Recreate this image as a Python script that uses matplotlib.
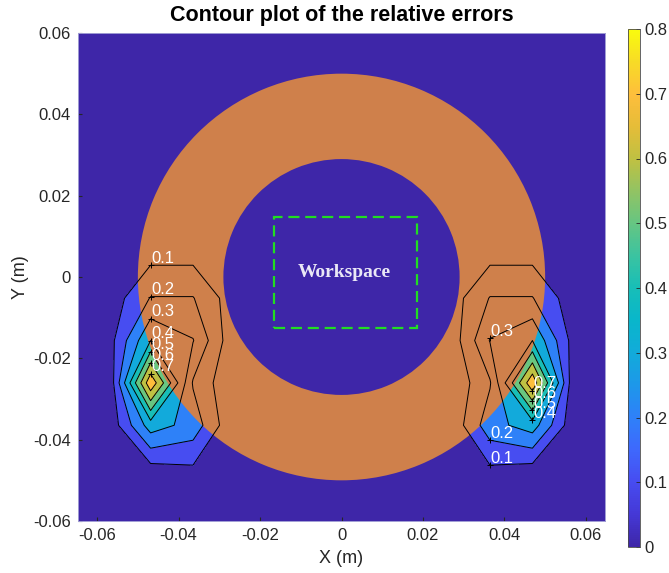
import numpy as np
import matplotlib
matplotlib.use("Agg")
import matplotlib.pyplot as plt
from matplotlib.cm import ScalarMappable
from matplotlib.colors import LinearSegmentedColormap, Normalize
from matplotlib.patches import Rectangle, Wedge

plt.rcParams["font.family"] = ["Liberation Sans", "DejaVu Sans"]

# grid nodes of the error map (m), same for x and y
grid_nodes = [-0.067708, -0.057292, -0.046875, -0.036458, -0.026042, -0.015625, -0.005208,
              0.005208, 0.015625, 0.026042, 0.036458, 0.046875, 0.057292, 0.067708]

# relative error around the left hot spot; the right one is its mirror image
blob_x = [-0.057292, -0.046875, -0.036458, -0.026042]
blob_y = [0.015625, 0.005208, -0.005208, -0.015625, -0.026042, -0.036458, -0.046875, -0.057292]
blob_err = [
    [0.000, 0.000, 0.000, 0.000],
    [0.030, 0.070, 0.070, 0.020],
    [0.034, 0.205, 0.205, 0.037],
    [0.049, 0.400, 0.305, 0.014],
    [0.000, 0.780, 0.190, 0.000],
    [0.019, 0.350, 0.260, 0.004],
    [0.010, 0.073, 0.090, 0.020],
    [0.000, 0.000, 0.000, 0.000],
]

levels = [0.0, 0.1, 0.2, 0.3, 0.4, 0.5, 0.6, 0.7, 0.8]
line_levels = [0.1, 0.2, 0.3, 0.4, 0.5, 0.6, 0.7]
cbar_ticks = [0, 0.1, 0.2, 0.3, 0.4, 0.5, 0.6, 0.7, 0.8]
axis_ticks = [-0.06, -0.04, -0.02, 0, 0.02, 0.04, 0.06]
axis_ticklabels = ["-0.06", "-0.04", "-0.02", "0", "0.02", "0.04", "0.06"]

ring_outer = 0.05
ring_inner = 0.029
workspace_x = [-0.0166, 0.0186]
workspace_y = [-0.0126, 0.0147]

# MATLAB parula, approximated
parula_pts = [
    (0.000, (0.2422, 0.1504, 0.6603)),
    (0.0625, (0.2700, 0.2200, 0.8400)),
    (0.125, (0.2780, 0.3000, 0.9450)),
    (0.1875, (0.2450, 0.4100, 0.9900)),
    (0.250, (0.1800, 0.5050, 0.9750)),
    (0.3125, (0.1150, 0.5950, 0.9150)),
    (0.375, (0.0700, 0.6700, 0.8550)),
    (0.4375, (0.0350, 0.7150, 0.7950)),
    (0.500, (0.0900, 0.7450, 0.7200)),
    (0.5625, (0.2300, 0.7650, 0.6300)),
    (0.625, (0.4000, 0.7750, 0.5100)),
    (0.6875, (0.5700, 0.7650, 0.3900)),
    (0.750, (0.7500, 0.7550, 0.2600)),
    (0.8125, (0.9000, 0.7400, 0.2200)),
    (0.875, (0.9950, 0.7450, 0.2350)),
    (0.9375, (0.9700, 0.8600, 0.1500)),
    (1.000, (0.9763, 0.9831, 0.0538)),
]
parula = LinearSegmentedColormap.from_list("parula", parula_pts)
norm = Normalize(0, 0.8)
band_colors = [parula(norm(v)) for v in levels[:-1]]

# full error map
n = len(grid_nodes)
Z = np.zeros((n, n))
for i, yv in enumerate(blob_y):
    r = grid_nodes.index(yv)
    for j, xv in enumerate(blob_x):
        c = grid_nodes.index(xv)
        Z[r, c] = blob_err[i][j]
        Z[r, n - 1 - c] = blob_err[i][j]
X, Y = np.meshgrid(grid_nodes, grid_nodes)

fig = plt.figure(figsize=(6.69, 5.73), dpi=100)
ax = fig.add_axes([78 / 669, 52 / 573, 527 / 669, 488 / 573])
ax.set_facecolor(band_colors[0])

ax.contourf(X, Y, Z, levels=levels, colors=band_colors, zorder=1)
ax.add_patch(Wedge((0, 0), ring_outer, 0, 360, width=ring_outer - ring_inner,
                   facecolor="#CF804B", edgecolor="none", zorder=2))
cs = ax.contour(X, Y, Z, levels=line_levels, colors="k", linewidths=0.7, zorder=3)

ax.add_patch(Rectangle((workspace_x[0], workspace_y[0]),
                       workspace_x[1] - workspace_x[0], workspace_y[1] - workspace_y[0],
                       fill=False, edgecolor="#22DD22", linewidth=1.6,
                       linestyle=(0, (5, 2.6)), zorder=4))
ax.text(np.mean(workspace_x) - 0.0004, np.mean(workspace_y) + 0.0001, "Workspace",
        family=["Liberation Serif", "DejaVu Serif"], fontweight="bold", fontsize=14,
        color="#EAE8F6", ha="center", va="center", zorder=4)


def crossing(level, x0, pick):
    """y where the contour line of `level` crosses the vertical x = x0."""
    path = cs.get_paths()[line_levels.index(level)]
    ys = []
    for poly in path.to_polygons(closed_only=False):
        for (xa, ya), (xb, yb) in zip(poly[:-1], poly[1:]):
            if xa == xb:
                continue
            if (xa - x0) * (xb - x0) <= 0:
                ys.append(ya + (x0 - xa) * (yb - ya) / (xb - xa))
    return max(ys) if pick == "max" else min(ys)


# (level, column, which crossing) for the inline labels
label_specs = [(lev, blob_x[1], "max") for lev in line_levels]
label_specs += [(0.1, -blob_x[2], "min"), (0.2, -blob_x[2], "min"), (0.3, -blob_x[2], "max")]
label_specs += [(lev, -blob_x[1], "min") for lev in [0.4, 0.5, 0.6, 0.7]]

for lev, x0, pick in label_specs:
    y0 = crossing(lev, x0, pick)
    ax.plot(x0, y0, marker="+", color="k", ms=4, mew=0.7, zorder=5)
    ax.annotate(f"{lev:g}", (x0, y0), xytext=(0.5, 1.8), textcoords="offset points",
                color="white", fontsize=12, ha="left", va="baseline", zorder=6)

ax.set_xlim(-0.0647, 0.0647)
ax.set_ylim(-0.06, 0.06)
ax.set_xticks(axis_ticks)
ax.set_xticklabels(axis_ticklabels)
ax.set_yticks(axis_ticks)
ax.set_yticklabels(axis_ticklabels)
ax.tick_params(direction="in", length=3, labelsize=12, colors="#262626", pad=5)
for sp in ax.spines.values():
    sp.set_color("#A09CD4")
    sp.set_linewidth(0.7)
ax.set_xlabel("X (m)", fontsize=13, color="#262626", labelpad=5)
ax.set_ylabel("Y (m)", fontsize=13, color="#262626", labelpad=3)
ax.set_title("Contour plot of the relative errors", fontsize=15.5, fontweight="bold", pad=9)

cax = fig.add_axes([628 / 669, 26 / 573, 12 / 669, 518 / 573])
cb = fig.colorbar(ScalarMappable(norm=norm, cmap=parula), cax=cax, ticks=cbar_ticks)
cb.ax.set_yticklabels([f"{t:g}" for t in cbar_ticks])
cb.ax.tick_params(direction="in", length=3, labelsize=12, colors="#262626", width=0.6)
cb.outline.set_linewidth(0.6)
cb.outline.set_edgecolor("#4a4a4a")

fig.savefig("out.png", dpi=100)
